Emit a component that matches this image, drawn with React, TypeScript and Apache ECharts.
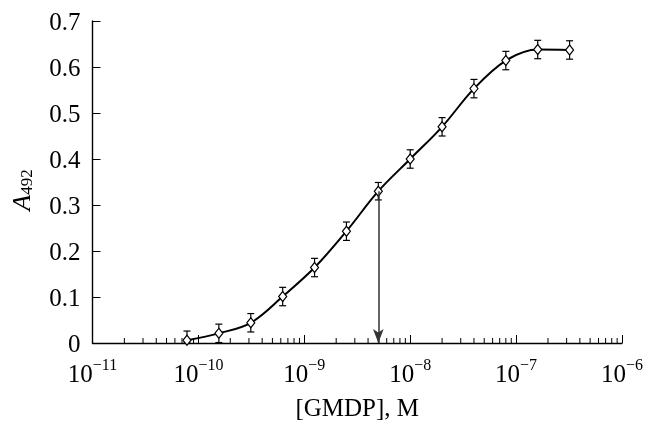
import React, { useEffect, useRef } from "react";
import * as echarts from "echarts";

// GMDP concentration, M
const concentrations = [7.8e-11, 1.56e-10, 3.125e-10, 6.25e-10, 1.25e-9, 2.5e-9, 5e-9, 1e-8, 2e-8, 4e-8, 8e-8, 1.6e-7, 3.2e-7];
// A492 absorbance
const absorbance = [0.006, 0.021, 0.044, 0.101, 0.164, 0.243, 0.330, 0.400, 0.470, 0.553, 0.614, 0.638, 0.637];
// error bar half-lengths
const errors = [0.02, 0.02, 0.02, 0.02, 0.02, 0.02, 0.019, 0.02, 0.02, 0.02, 0.02, 0.02, 0.02];
// arrow marks the half-maximum point (index in data)
const arrowIndex = 6;
// minor tick structure of log axis
const minorDecades = [1e-11, 1e-10, 1e-9, 1e-8, 1e-7];
const minorMultipliers = [2, 3, 4, 5, 6, 7, 8, 9];

const FONT = "Liberation Serif";

export default function App() {
  const ref = useRef<HTMLDivElement>(null);
  useEffect(() => {
    if (!ref.current) return;
    const chart = echarts.init(ref.current, undefined, { renderer: "svg" });
    const pts = concentrations.map((c, i) => [c, absorbance[i]]);
    const errData = concentrations.map((c, i) => [c, absorbance[i], errors[i]]);
    const minorTicks: number[][] = [];
    minorDecades.forEach((d) => minorMultipliers.forEach((m) => minorTicks.push([d * m, 0])));

    chart.setOption({
      animation: false,
      grid: { left: 87, right: 28, top: 21, bottom: 75, containLabel: false },
      xAxis: {
        type: "log",
        logBase: 10,
        min: 1e-11,
        max: 1e-6,
        splitNumber: 5,
        name: "[GMDP], M",
        nameLocation: "middle",
        nameGap: 52,
        nameTextStyle: { fontFamily: FONT, fontSize: 25, color: "#000" },
        axisLine: { lineStyle: { color: "#000", width: 1.4 } },
        axisTick: { inside: true, length: 8, lineStyle: { color: "#000", width: 1 } },
        splitLine: { show: false },
        axisLabel: {
          margin: 13,
          formatter: (v: number) => {
            const e = Math.round(Math.log10(v));
            return `{b|10}{s|\u2212${-e}}`;
          },
          rich: {
            b: { fontFamily: FONT, fontSize: 25, color: "#000", lineHeight: 30, verticalAlign: "bottom" },
            s: { fontFamily: FONT, fontSize: 16, color: "#000", lineHeight: 16, verticalAlign: "top" },
          },
        },
      },
      yAxis: {
        type: "value",
        min: 0,
        max: 0.7,
        interval: 0.1,
        name: "{a|A}{sub|492}",
        nameLocation: "middle",
        nameGap: 58,
        nameTextStyle: {
          padding: [0, 16, 0, 0],
          rich: {
            a: { fontFamily: FONT, fontSize: 26, fontStyle: "italic", color: "#000" },
            sub: { fontFamily: FONT, fontSize: 17, color: "#000", padding: [10, 0, 0, 0] },
          },
        },
        axisLine: { show: true, lineStyle: { color: "#000", width: 1.4 } },
        axisTick: { show: true, inside: true, length: 8, lineStyle: { color: "#000", width: 1 } },
        splitLine: { show: false },
        axisLabel: {
          margin: 12,
          fontFamily: FONT,
          fontSize: 25,
          color: "#000",
          formatter: (v: number) => (v === 0 ? "0" : v.toFixed(1)),
        },
      },
      series: [
        {
          type: "custom",
          z: 1,
          silent: true,
          data: minorTicks,
          renderItem: (params: any, api: any) => {
            const p = api.coord([api.value(0), 0]);
            return {
              type: "line",
              shape: { x1: p[0], y1: p[1], x2: p[0], y2: p[1] - 5 },
              style: { stroke: "#000", lineWidth: 1 },
            };
          },
        },
        {
          type: "custom",
          z: 2,
          silent: true,
          data: errData,
          renderItem: (params: any, api: any) => {
            const x = api.value(0);
            const y = api.value(1);
            const e = api.value(2);
            const top = api.coord([x, y + e]);
            const bot = api.coord([x, Math.max(0, y - e)]);
            const w = 3.5;
            const style = { stroke: "#000", lineWidth: 1.2 };
            return {
              type: "group",
              children: [
                { type: "line", shape: { x1: top[0], y1: top[1], x2: bot[0], y2: bot[1] }, style },
                { type: "line", shape: { x1: top[0] - w, y1: top[1], x2: top[0] + w, y2: top[1] }, style },
                { type: "line", shape: { x1: bot[0] - w, y1: bot[1], x2: bot[0] + w, y2: bot[1] }, style },
              ],
            };
          },
          markLine: {
            silent: true,
            symbol: ["none", "arrow"],
            symbolSize: [8, 14],
            label: { show: false },
            lineStyle: { color: "#333", width: 1.5, type: "solid" },
            data: [
              [
                { coord: [concentrations[arrowIndex], absorbance[arrowIndex]] },
                { coord: [concentrations[arrowIndex], 0] },
              ],
            ],
          },
        },
        {
          type: "line",
          z: 3,
          data: pts,
          smooth: 0.35,
          symbol: "diamond",
          symbolSize: [8, 10],
          lineStyle: { color: "#000", width: 2 },
          itemStyle: { color: "#fff", borderColor: "#000", borderWidth: 1.2 },
        },
      ],
    });
    return () => chart.dispose();
  }, []);
  return <div ref={ref} style={{ width: 650, height: 425, position: "fixed", left: 0, top: 0 }} />;
}
